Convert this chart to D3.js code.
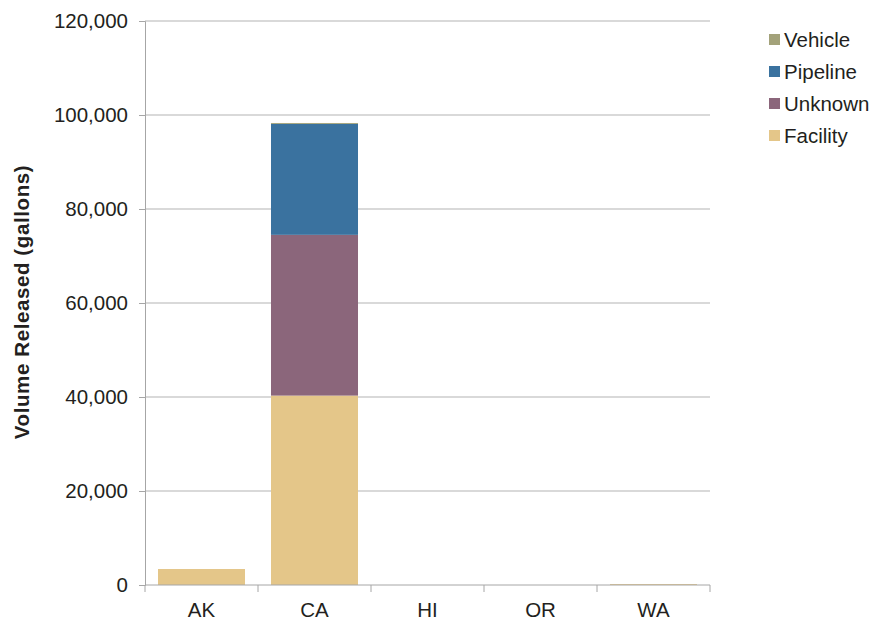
<!DOCTYPE html>
<html><head><meta charset="utf-8">
<script src="https://cdn.jsdelivr.net/npm/d3@7"></script>
<style>body{margin:0;background:#fff;font-family:Arial,"Liberation Sans",sans-serif;}</style>
</head><body>
<svg id="chart" width="871" height="620"></svg>
<script>
const states = ["AK","CA","HI","OR","WA"];
const seriesNames = ["Facility","Unknown","Pipeline","Vehicle"];
const facility = [3400, 40300, 0, 0, 200];
const unknown  = [0, 34200, 0, 0, 0];
const pipeline = [0, 23600, 0, 0, 0];
const vehicle  = [0, 200, 0, 0, 0];
const yTicks = [0,20000,40000,60000,80000,100000,120000];
const colors = {Facility:"#e4c689", Unknown:"#8b667b", Pipeline:"#3a729f", Vehicle:"#a3a27a"};
const legendOrder = ["Vehicle","Pipeline","Unknown","Facility"];

const rows = states.map((s,i)=>({state:s, Facility:facility[i], Unknown:unknown[i], Pipeline:pipeline[i], Vehicle:vehicle[i]}));
const stacked = d3.stack().keys(seriesNames)(rows);

const svg = d3.select("#chart");
const m = {left:145, right:161, top:21, bottom:35};
const W = 871, H = 620;
const FONT = "Arial, 'Liberation Sans', sans-serif";
const x = d3.scaleBand().domain(states).range([m.left, W-m.right]).paddingInner(0.23).paddingOuter(0.115);
const xb = d3.scaleBand().domain(states).range([m.left, W-m.right]);
const y = d3.scaleLinear().domain([0,120000]).range([H-m.bottom, m.top]);

// gridlines
svg.append("g").selectAll("line").data(yTicks.filter(t=>t>0)).join("line")
  .attr("x1", m.left).attr("x2", W-m.right)
  .attr("y1", d=>y(d)).attr("y2", d=>y(d))
  .attr("stroke","#b3b3b3").attr("stroke-width",1);

// bars
svg.append("g").selectAll("g").data(stacked).join("g")
  .attr("fill", d=>colors[d.key])
  .selectAll("rect").data(d=>d).join("rect")
  .attr("x", d=>x(d.data.state)).attr("width", x.bandwidth())
  .attr("y", d=>y(d[1])).attr("height", d=>Math.max(0, y(d[0])-y(d[1])));

// y axis
const yAxis = d3.axisLeft(y).tickValues(yTicks).tickSize(6).tickPadding(11).tickFormat(d3.format(","));
const gy = svg.append("g").attr("transform",`translate(${m.left},0)`).call(yAxis);
gy.select(".domain").attr("stroke","#a6a6a6");
gy.selectAll(".tick line").attr("stroke","#a6a6a6");
gy.selectAll("text").attr("font-size",20.5).attr("fill","#231f20").attr("font-family",FONT);

// x axis
const gx = svg.append("g").attr("transform",`translate(0,${y(0)})`);
gx.append("line").attr("x1",m.left).attr("x2",W-m.right).attr("stroke","#a6a6a6");
const bounds = states.map(s=>xb(s)).concat([xb(states[states.length-1])+xb.bandwidth()]);
gx.selectAll("line.tk").data(bounds).join("line").attr("class","tk")
  .attr("x1",d=>d).attr("x2",d=>d).attr("y1",0).attr("y2",7).attr("stroke","#a6a6a6");
gx.selectAll("text").data(states).join("text")
  .attr("x", s=>xb(s)+xb.bandwidth()/2).attr("y", 32)
  .attr("text-anchor","middle").attr("font-size",20.5).attr("font-family",FONT).attr("fill","#231f20").text(s=>s);

// y title
svg.append("text").attr("transform",`translate(29,302) rotate(-90)`)
  .attr("text-anchor","middle").attr("font-size",20.5).attr("letter-spacing",0.6).attr("font-weight","bold").attr("font-family",FONT).attr("fill","#231f20")
  .text("Volume Released (gallons)");

// legend
const lg = svg.append("g").selectAll("g").data(legendOrder).join("g")
  .attr("transform",(d,i)=>`translate(769,${39+i*32})`);
lg.append("rect").attr("x",0).attr("y",-5).attr("width",11).attr("height",11).attr("fill",d=>colors[d]);
lg.append("text").attr("x",15).attr("y",7.5).attr("font-size",20.5).attr("font-family",FONT).attr("fill","#231f20").text(d=>d);
</script>
</body></html>
